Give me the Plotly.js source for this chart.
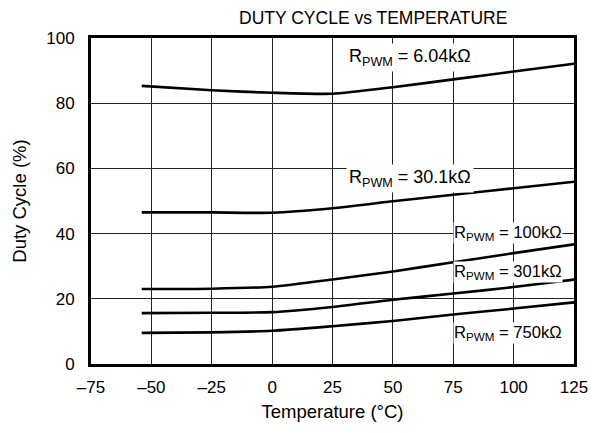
<!DOCTYPE html>
<html>
<head>
<meta charset="utf-8">
<script src="https://cdn.plot.ly/plotly-3.0.1.min.js"></script>
<style>html,body{margin:0;padding:0;background:#fff;}#chart{width:603px;height:433px;}</style>
</head>
<body>
<div id="chart"></div>
<script>
const temps = [-54, -25, 0, 25, 50, 75, 100, 125];
const duty604k = [85.3, 83.95, 83.2, 82.9, 84.9, 87.3, 89.7, 92.1];
const duty30k1 = [46.5, 46.5, 46.4, 47.8, 49.9, 51.9, 53.9, 55.9];
const duty100k = [23.0, 23.1, 23.7, 25.9, 28.4, 31.2, 34.0, 36.7];
const duty301k = [15.6, 15.7, 15.9, 17.5, 19.7, 21.6, 23.6, 25.9];
const duty750k = [9.55, 9.7, 10.2, 11.6, 13.2, 15.2, 17.0, 18.9];
const seriesNames = ['6.04kΩ', '30.1kΩ', '100kΩ', '301kΩ', '750kΩ'];
const labelX = [30.7, 30.7, 75, 75, 75];
const labelY = [94.0, 57.0, 40.1, 28.2, 9.6];
const xTicks = [-75, -50, -25, 0, 25, 50, 75, 100, 125];
const yTicks = [0, 20, 40, 60, 80, 100];

const FONT = 'Liberation Sans, Arial, sans-serif';
const labelSizes = [18, 18, 16.6, 16.6, 16.6];
const allSeries = [duty604k, duty30k1, duty100k, duty301k, duty750k];
const traces = allSeries.map((ys, i) => ({
  x: temps, y: ys, type: 'scatter', mode: 'lines', name: seriesNames[i],
  line: {color: '#000', width: 2.6, shape: 'spline', smoothing: 0.6},
  hoverinfo: 'skip'
}));

const annotations = seriesNames.map((n, i) => ({
  x: labelX[i], y: labelY[i], xref: 'x', yref: 'y',
  xanchor: 'left', yanchor: 'middle',
  text: 'R<sub>PWM</sub> = ' + n,
  showarrow: false, bgcolor: '#fff', borderpad: i < 2 ? 2 : 0,
  font: {family: FONT, size: labelSizes[i], color: '#000'}
}));

const axisCommon = {
  showgrid: true, gridcolor: '#222', gridwidth: 1,
  zeroline: true, zerolinecolor: '#222', zerolinewidth: 1,
  showline: true, linecolor: '#000', linewidth: 3, mirror: true,
  ticks: '', tickfont: {family: FONT, size: 17, color: '#000'}
};

const layout = {
  width: 603, height: 433,
  margin: {l: 91, r: 28.5, t: 38, b: 68.5},
  paper_bgcolor: '#fff', plot_bgcolor: '#fff',
  showlegend: false,
  font: {family: FONT, color: '#000'},
  title: {text: 'DUTY CYCLE vs TEMPERATURE', font: {family: FONT, size: 17.5, color: '#000'},
          xref: 'container', x: 0.619, xanchor: 'center', yref: 'container', y: 0.958, yanchor: 'middle'},
  xaxis: Object.assign({}, axisCommon, {
    range: [-75, 125], tickvals: xTicks, ticktext: xTicks.map(v => v < 0 ? '\u2013' + Math.abs(v) : String(v)),
    ticklabelstandoff: 6,
    title: {text: 'Temperature (°C)', font: {family: FONT, size: 18.5, color: '#000'}, standoff: 9}
  }),
  yaxis: Object.assign({}, axisCommon, {
    range: [0, 100], tickvals: yTicks,
    ticklabelstandoff: 10,
    title: {text: 'Duty Cycle (%)', font: {family: FONT, size: 18.5, color: '#000'}, standoff: 15}
  }),
  annotations: annotations
};

Plotly.newPlot('chart', traces, layout, {displayModeBar: false, staticPlot: true});
</script>
</body>
</html>
